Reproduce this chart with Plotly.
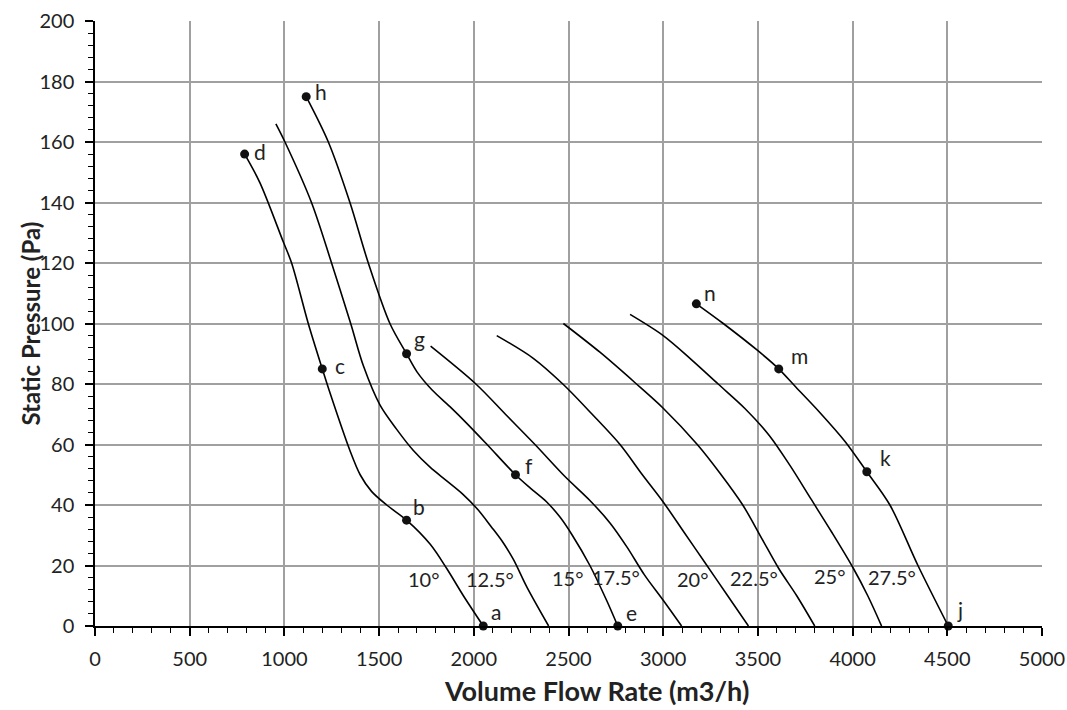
import plotly.graph_objects as go

# ---- data ----
angles = ["10°", "12.5°", "15°", "17.5°", "20°", "22.5°", "25°", "27.5°"]

x_10 = [790, 871, 994, 1038, 1126, 1200, 1241, 1346, 1400, 1460, 1540, 1645, 1770, 1857, 1945, 2050]
y_10 = [156, 146.5, 127, 120, 100, 85, 77, 58, 50, 44.5, 40, 35, 27, 19, 10, 0]

x_125 = [955, 1003, 1143, 1249, 1350, 1417, 1505, 1593, 1681, 1769, 1857, 1940, 2020, 2090, 2150, 2209, 2279, 2395]
y_125 = [166, 160, 140, 120, 100, 86, 73, 65, 58, 52.5, 48, 43.7, 38.6, 33, 28, 22, 13, 0]

x_15 = [1115, 1232, 1346, 1443, 1557, 1645, 1700, 1780, 1874, 1963, 2070, 2220, 2300, 2385, 2455, 2520, 2613, 2701, 2760]
y_15 = [175, 160, 140, 120, 100, 90, 84, 78, 72.5, 67, 60, 50, 45.5, 41, 36, 30, 20, 8.5, 0]

x_175 = [1772, 2011, 2167, 2323, 2480, 2613, 2720, 2810, 2900, 3000, 3097]
y_175 = [92.5, 80, 70, 60, 49.5, 41.5, 34, 26, 17, 8.5, 0]

x_20 = [2121, 2314, 2470, 2625, 2772, 2890, 3000, 3110, 3220, 3335, 3450]
y_20 = [96, 88.5, 80, 70, 60, 50, 41, 31, 21, 10.5, 0]

x_225 = [2473, 2666, 2850, 3000, 3180, 3300, 3420, 3520, 3610, 3705, 3800]
y_225 = [100, 90.5, 80.5, 72, 60, 50.5, 40, 29, 19, 10, 0]

x_25 = [2825, 3000, 3150, 3290, 3430, 3560, 3670, 3780, 3890, 4000, 4080, 4153]
y_25 = [103, 96, 88, 80, 72, 63, 53, 42, 31, 19.5, 10, 0]

x_275 = [3175, 3317, 3500, 3610, 3700, 3828, 3960, 4075, 4197, 4345, 4505]
y_275 = [106.5, 100, 91, 85, 79, 70.5, 61, 51, 40, 20, 0]

curves_x = [x_10, x_125, x_15, x_175, x_20, x_225, x_25, x_275]
curves_y = [y_10, y_125, y_15, y_175, y_20, y_225, y_25, y_275]

point_names = ["a", "b", "c", "d", "e", "f", "g", "h", "j", "k", "m", "n"]
point_x = [2050, 1645, 1200, 790, 2760, 2220, 1645, 1115, 4505, 4075, 3610, 3175]
point_y = [0, 35, 85, 156, 0, 50, 90, 175, 0, 51, 85, 106.5]

# angle label placement (text anchor in data units)
angle_label_x = [1739, 2086, 2499, 2751, 3159, 3481, 3881, 4210]
angle_label_y = [15.5, 15.7, 16, 16.2, 15.7, 15.9, 16.5, 16.2]

# pixel offsets of the point letters from their markers
point_dx = [13, 12, 18, 15, 14, 14, 13, 15, 12, 19, 21, 14]
point_dy = [15, 14, 3, 3, 14, 9, 15, 5, 17, 14, 13, 11]

FONT = "Lato, 'Open Sans', sans-serif"
TXT = "#222222"

fig = go.Figure()
for cx, cy, name in zip(curves_x, curves_y, angles):
    fig.add_trace(go.Scatter(
        x=cx, y=cy, mode="lines", name=name,
        line=dict(color="black", width=1.6, shape="spline", smoothing=0.9),
        hoverinfo="x+y+name", showlegend=False))

fig.add_trace(go.Scatter(
    x=point_x, y=point_y, mode="markers", name="points",
    marker=dict(color="#111111", size=9), showlegend=False, cliponaxis=False))

annotations = []
for nm, px, py, dx, dy in zip(point_names, point_x, point_y, point_dx, point_dy):
    annotations.append(dict(x=px, y=py, text=nm, showarrow=False, xshift=dx, yshift=dy,
                            font=dict(family=FONT, size=21, color=TXT)))
for lab, lx, ly in zip(angles, angle_label_x, angle_label_y):
    annotations.append(dict(x=lx, y=ly, text=lab, showarrow=False,
                            font=dict(family=FONT, size=20, color=TXT)))

# axis titles
annotations.append(dict(xref="paper", yref="paper", x=0.530, y=-0.106,
                        xanchor="center", yanchor="middle", showarrow=False,
                        text="<b>Volume Flow Rate (m3/h)</b>",
                        font=dict(family=FONT, size=27, color=TXT)))
annotations.append(dict(xref="paper", yref="paper", x=-0.0686, y=0.5,
                        xanchor="center", yanchor="middle", showarrow=False,
                        textangle=-90, text="<b>Static Pressure (Pa)</b>",
                        font=dict(family=FONT, size=24, color=TXT)))

fig.update_layout(
    width=1067, height=710,
    margin=dict(l=95, r=25, t=21, b=84, autoexpand=False),
    paper_bgcolor="white", plot_bgcolor="white",
    font=dict(family=FONT, size=20, color=TXT),
    annotations=annotations,
    xaxis=dict(
        range=[0, 5000], dtick=500, tick0=0, automargin=False,
        showgrid=True, gridcolor="#a0a0a0", gridwidth=1.5,
        showline=True, linecolor="black", linewidth=1.5,
        ticks="outside", ticklen=8, tickwidth=1.5, tickcolor="black",
        minor=dict(dtick=100, ticks="outside", ticklen=5, tickwidth=1.3, tickcolor="black", showgrid=False),
        zeroline=False, ticklabelstandoff=6,
        tickfont=dict(family=FONT, size=20, color=TXT),
    ),
    yaxis=dict(
        range=[0, 200], dtick=20, tick0=0, automargin=False,
        showgrid=True, gridcolor="#a0a0a0", gridwidth=1.5,
        showline=True, linecolor="black", linewidth=1.5,
        ticks="outside", ticklen=8, tickwidth=1.5, tickcolor="black",
        minor=dict(dtick=4, ticks="outside", ticklen=5, tickwidth=1.3, tickcolor="black", showgrid=False),
        zeroline=False, ticklabelstandoff=7,
        tickfont=dict(family=FONT, size=20, color=TXT),
    ),
)

# remove the browser's default 8px body margin so the figure fills the window exactly
fig.write_html("out.html",
               config={"displayModeBar": False},
               post_script="document.body.style.margin='0';document.body.style.overflow='hidden';")
